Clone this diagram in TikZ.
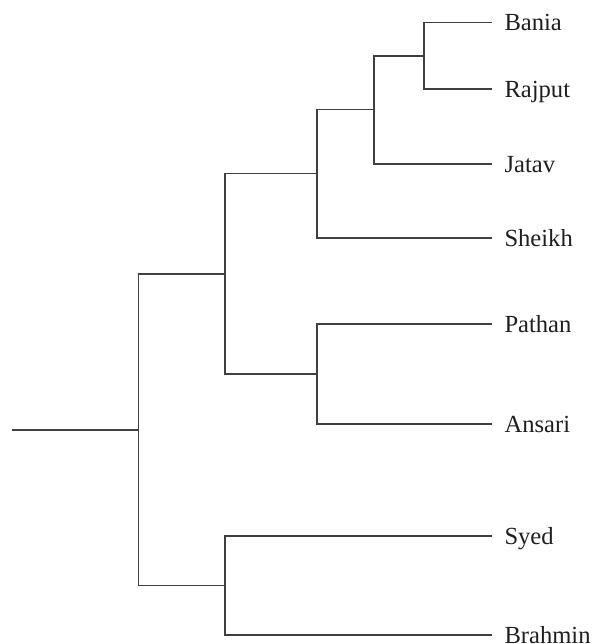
\documentclass[tikz,border=0pt]{standalone}
\usepackage{fontspec}
\setmainfont{Liberation Serif}
\begin{document}
\begin{tikzpicture}[x=1pt,y=-1pt,
  branch/.style={draw=black!75, line width=1.4pt, line cap=rect},
  leaflabel/.style={anchor=base west, inner sep=0pt, text=black!88,
    font=\fontsize{24.6}{28}\selectfont}]
\useasboundingbox (0,0) rectangle (605,644);

% internal nodes of the tree
\coordinate (r0) at (12.7,430);
\coordinate (r)  at (138.7,430);
\coordinate (a)  at (225,274);
\coordinate (b)  at (225,585.5);
\coordinate (c)  at (317,173.5);
\coordinate (d)  at (317,374);
\coordinate (e)  at (374,109.5);
\coordinate (f)  at (424,56);

% leaf tips
\coordinate (tBania)   at (491.5,22.5);
\coordinate (tRajput)  at (491.5,89);
\coordinate (tJatav)   at (491.5,164);
\coordinate (tSheikh)  at (491.5,238);
\coordinate (tPathan)  at (491.5,324);
\coordinate (tAnsari)  at (491.5,424);
\coordinate (tSyed)    at (491.5,536);
\coordinate (tBrahmin) at (491.5,635);

% leaf labels
\foreach \n in {Bania,Rajput,Jatav,Sheikh,Pathan,Ansari,Syed,Brahmin}
  \node[leaflabel] (l\n) at ([xshift=12.8pt,yshift=-8.2pt]t\n) {\n};

% branches
\draw[branch] (r0) -- (r);
\draw[branch] (r) |- (a);
\draw[branch] (r) |- (b);
\draw[branch] (a) |- (c);
\draw[branch] (a) |- (d);
\draw[branch] (c) |- (e);
\draw[branch] (c) |- (tSheikh);
\draw[branch] (e) |- (f);
\draw[branch] (e) |- (tJatav);
\draw[branch] (f) |- (tBania);
\draw[branch] (f) |- (tRajput);
\draw[branch] (d) |- (tPathan);
\draw[branch] (d) |- (tAnsari);
\draw[branch] (b) |- (tSyed);
\draw[branch] (b) |- (tBrahmin);
\end{tikzpicture}
\end{document}
